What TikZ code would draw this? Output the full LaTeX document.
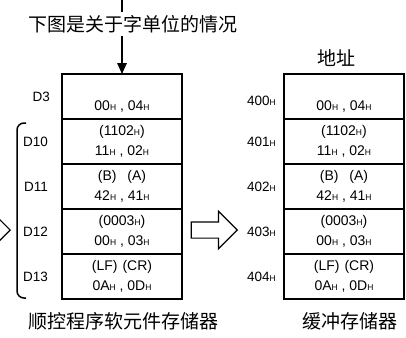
\documentclass[tikz,border=0pt]{standalone}
\usepackage{fontspec}
\setmainfont{Liberation Sans}
\newfontfamily\cjk{Noto Sans CJK SC}
\usetikzlibrary{positioning, arrows.meta, shapes.arrows}
\newcommand{\hh}[1]{#1{\fontsize{8.5}{10}\selectfont H}}
\tikzset{
  cell/.style={
    rectangle, draw, line width=1.8pt, outer sep=0pt,
    minimum width=120pt, minimum height=45pt, inner sep=0pt,
    align=center, font=\fontsize{14}{20}\selectfont
  },
  reglabel/.style={font=\fontsize{13.5}{15}\selectfont, inner sep=0pt},
  caption/.style={font=\cjk\fontsize{19}{22}\selectfont, inner sep=0pt},
  bigarrow/.style={
    single arrow, draw, line width=1.2pt, inner sep=0pt,
    text height=7.5pt, text depth=7.5pt, text width=0pt,
    minimum height=46pt, single arrow head extend=10.5pt
  },
  arrow/.style={line width=1.6pt, -{Triangle[length=11pt,width=9.5pt]}},
}

\begin{document}
\begin{tikzpicture}[x=1pt, y=-1pt]
  \useasboundingbox (0,0) rectangle (406,337);

  % left column: sequence program device memory
  \node (l3)  [cell] at (122,96.5) {\strut\\\strut\hh{00} , \hh{04}};
  \node (l10) [cell, below=0pt of l3]  {\strut(\hh{1102})\\\strut\hh{11} , \hh{02}};
  \node (l11) [cell, below=0pt of l10] {\strut(B)\hspace{11pt}(A)\\\strut\hh{42} , \hh{41}};
  \node (l12) [cell, below=0pt of l11] {\strut(\hh{0003})\\\strut\hh{00} , \hh{03}};
  \node (l13) [cell, below=0pt of l12] {\strut(LF)\hspace{5pt}(CR)\\\strut\hh{0A} , \hh{0D}};

  \node (d3)  [reglabel, left=12pt of l3]  {D3};
  \node (d10) [reglabel, left=14pt of l10] {D10};
  \node (d11) [reglabel, left=14pt of l11] {D11};
  \node (d12) [reglabel, left=14pt of l12] {D12};
  \node (d13) [reglabel, left=14pt of l13] {D13};

  % right column: buffer memory
  \node (r400) [cell] at (344,96.5) {\strut\\\strut\hh{00} , \hh{04}};
  \node (r401) [cell, below=0pt of r400] {\strut(\hh{1102})\\\strut\hh{11} , \hh{02}};
  \node (r402) [cell, below=0pt of r401] {\strut(B)\hspace{11pt}(A)\\\strut\hh{42} , \hh{41}};
  \node (r403) [cell, below=0pt of r402] {\strut(\hh{0003})\\\strut\hh{00} , \hh{03}};
  \node (r404) [cell, below=0pt of r403] {\strut(LF)\hspace{5pt}(CR)\\\strut\hh{0A} , \hh{0D}};

  \node (a400) [reglabel, left=8pt of r400, yshift=-4pt] {\hh{400}};
  \node (a401) [reglabel, left=8pt of r401] {\hh{401}};
  \node (a402) [reglabel, left=8pt of r402] {\hh{402}};
  \node (a403) [reglabel, left=8pt of r403] {\hh{403}};
  \node (a404) [reglabel, left=8pt of r404] {\hh{404}};

  % brace over D10..D13
  \draw [line width=1.5pt, rounded corners=7pt] (26,123) -- (17,123) -- (17,298) -- (26,298);

  % hollow arrows
  \node (inarrow)  [bigarrow, anchor=tip] at (11,230) {};
  \node (outarrow) [bigarrow, anchor=tip] at (238,230) {};

  % feed arrow and captions
  \coordinate (feed) at (122,0);
  \draw [arrow] (feed) -- (l3);
  \node (title) [caption, fill=white, inner ysep=3pt, inner xsep=1pt, anchor=west] at (27,24)
    {下图是关于字单位的情况};
  \node (addr)  [caption] at (336,58)  {地址};
  \node (devcap) [caption] at (123,321) {顺控程序软元件存储器};
  \node (bufcap) [caption] at (350,321) {缓冲存储器};
\end{tikzpicture}
\end{document}
